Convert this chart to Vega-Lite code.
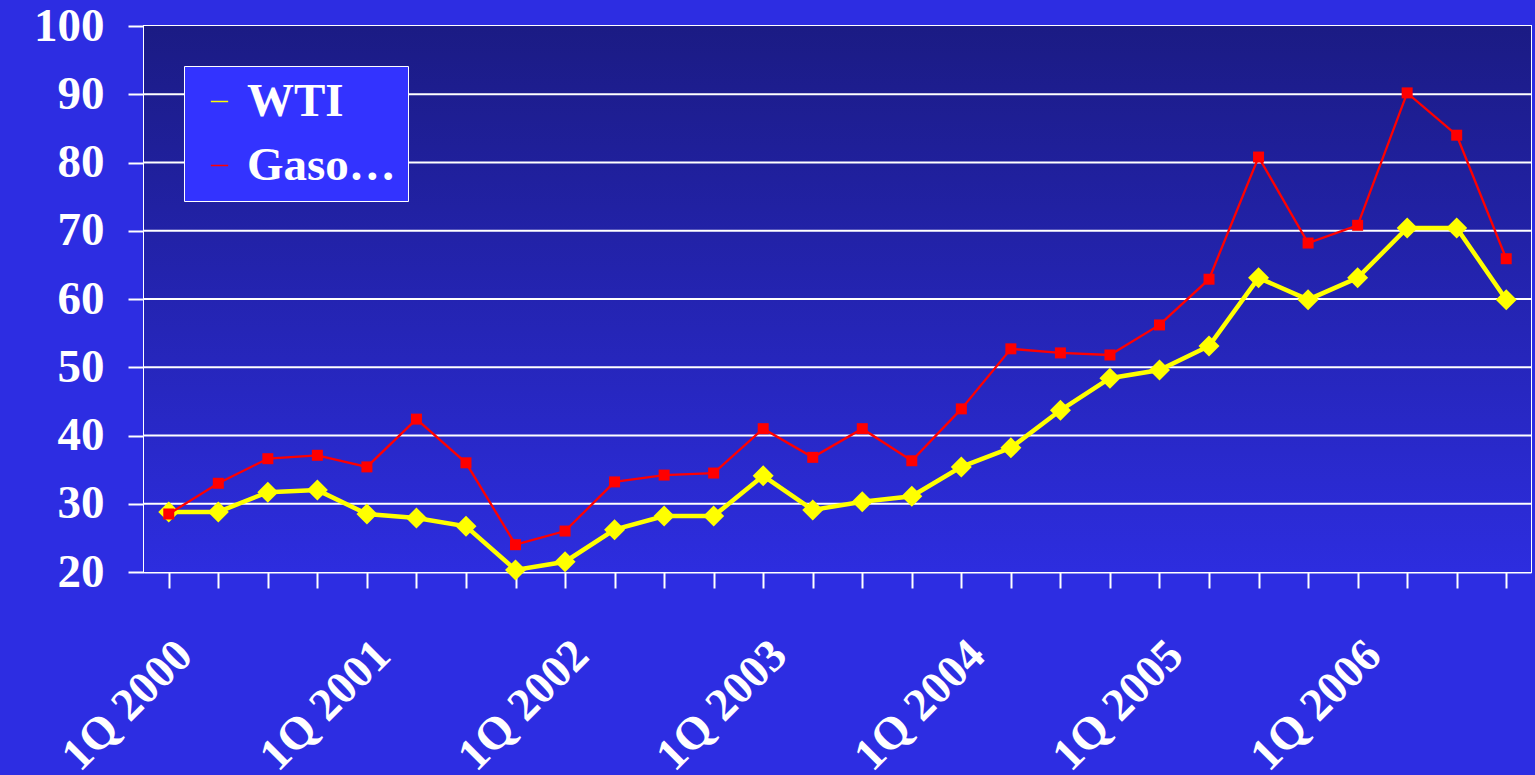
{
  "$schema": "https://vega.github.io/schema/vega-lite/v6.json",
  "width": 1387,
  "height": 546,
  "padding": {"left": 33, "top": 2, "right": 4, "bottom": 0},
  "background": "#2d2de2",
  "config": {
    "view": {"stroke": "white", "strokeWidth": 2},
    "axisX": {
      "title": null, "grid": false,
      "domainColor": "white", "domainWidth": 2,
      "tickColor": "white", "tickWidth": 2, "tickSize": 16,
      "labelAngle": -45, "labelPadding": 44,
      "labelFont": "Liberation Serif", "labelFontWeight": "bold", "labelFontSize": 46, "labelColor": "white"
    },
    "axisY": {
      "title": null, "grid": false,
      "domainColor": "white", "domainWidth": 2,
      "tickColor": "white", "tickWidth": 2, "tickSize": 16,
      "labelPadding": 24, "labelFont": "Liberation Serif", "labelFontWeight": "bold", "labelFontSize": 47, "labelColor": "white"
    }
  },
  "data": {"values": [
    {"q": "1Q 2000", "series": "WTI", "value": 28.8}, {"q": "1Q 2000", "series": "Gasoline", "value": 28.5},
    {"q": "2Q 2000", "series": "WTI", "value": 28.8}, {"q": "2Q 2000", "series": "Gasoline", "value": 33.0},
    {"q": "3Q 2000", "series": "WTI", "value": 31.7}, {"q": "3Q 2000", "series": "Gasoline", "value": 36.6},
    {"q": "4Q 2000", "series": "WTI", "value": 32.0}, {"q": "4Q 2000", "series": "Gasoline", "value": 37.1},
    {"q": "1Q 2001", "series": "WTI", "value": 28.5}, {"q": "1Q 2001", "series": "Gasoline", "value": 35.4},
    {"q": "2Q 2001", "series": "WTI", "value": 27.9}, {"q": "2Q 2001", "series": "Gasoline", "value": 42.4},
    {"q": "3Q 2001", "series": "WTI", "value": 26.7}, {"q": "3Q 2001", "series": "Gasoline", "value": 36.0},
    {"q": "4Q 2001", "series": "WTI", "value": 20.3}, {"q": "4Q 2001", "series": "Gasoline", "value": 24.0},
    {"q": "1Q 2002", "series": "WTI", "value": 21.5}, {"q": "1Q 2002", "series": "Gasoline", "value": 26.0},
    {"q": "2Q 2002", "series": "WTI", "value": 26.2}, {"q": "2Q 2002", "series": "Gasoline", "value": 33.2},
    {"q": "3Q 2002", "series": "WTI", "value": 28.2}, {"q": "3Q 2002", "series": "Gasoline", "value": 34.2},
    {"q": "4Q 2002", "series": "WTI", "value": 28.2}, {"q": "4Q 2002", "series": "Gasoline", "value": 34.5},
    {"q": "1Q 2003", "series": "WTI", "value": 34.1}, {"q": "1Q 2003", "series": "Gasoline", "value": 41.0},
    {"q": "2Q 2003", "series": "WTI", "value": 29.1}, {"q": "2Q 2003", "series": "Gasoline", "value": 36.8},
    {"q": "3Q 2003", "series": "WTI", "value": 30.3}, {"q": "3Q 2003", "series": "Gasoline", "value": 41.0},
    {"q": "4Q 2003", "series": "WTI", "value": 31.1}, {"q": "4Q 2003", "series": "Gasoline", "value": 36.3},
    {"q": "1Q 2004", "series": "WTI", "value": 35.4}, {"q": "1Q 2004", "series": "Gasoline", "value": 43.9},
    {"q": "2Q 2004", "series": "WTI", "value": 38.2}, {"q": "2Q 2004", "series": "Gasoline", "value": 52.7},
    {"q": "3Q 2004", "series": "WTI", "value": 43.7}, {"q": "3Q 2004", "series": "Gasoline", "value": 52.1},
    {"q": "4Q 2004", "series": "WTI", "value": 48.4}, {"q": "4Q 2004", "series": "Gasoline", "value": 51.8},
    {"q": "1Q 2005", "series": "WTI", "value": 49.6}, {"q": "1Q 2005", "series": "Gasoline", "value": 56.2},
    {"q": "2Q 2005", "series": "WTI", "value": 53.1}, {"q": "2Q 2005", "series": "Gasoline", "value": 62.9},
    {"q": "3Q 2005", "series": "WTI", "value": 63.1}, {"q": "3Q 2005", "series": "Gasoline", "value": 80.8},
    {"q": "4Q 2005", "series": "WTI", "value": 59.9}, {"q": "4Q 2005", "series": "Gasoline", "value": 68.2},
    {"q": "1Q 2006", "series": "WTI", "value": 63.1}, {"q": "1Q 2006", "series": "Gasoline", "value": 70.8},
    {"q": "2Q 2006", "series": "WTI", "value": 70.4}, {"q": "2Q 2006", "series": "Gasoline", "value": 90.2},
    {"q": "3Q 2006", "series": "WTI", "value": 70.4}, {"q": "3Q 2006", "series": "Gasoline", "value": 84.0},
    {"q": "4Q 2006", "series": "WTI", "value": 59.9}, {"q": "4Q 2006", "series": "Gasoline", "value": 65.9}
  ]},
  "layer": [
    {
      "data": {"values": [{"top": 100, "bottom": 20}]},
      "mark": {"type": "rect", "fill": {"gradient": "linear", "x1": 0, "y1": 0, "x2": 0, "y2": 1, "stops": [{"offset": 0, "color": "#1b1b84"}, {"offset": 1, "color": "#2d2ddf"}]}},
      "encoding": {
        "y": {"field": "top", "type": "quantitative", "scale": {"domain": [20, 100], "nice": false, "zero": false}, "axis": {"values": [20, 30, 40, 50, 60, 70, 80, 90, 100]}},
        "y2": {"field": "bottom"}
      }
    },
    {
      "data": {"values": [{"g": 30}, {"g": 40}, {"g": 50}, {"g": 60}, {"g": 70}, {"g": 80}, {"g": 90}]},
      "mark": {"type": "rule", "color": "white", "strokeWidth": 2},
      "encoding": {
        "y": {"field": "g", "type": "quantitative"}
      }
    },
    {
      "mark": {"type": "line", "strokeWidth": 4.5},
      "transform": [{"filter": "datum.series == 'WTI'"}],
      "encoding": {
        "x": {"field": "q", "type": "ordinal", "sort": null, "scale": {"paddingInner": 0, "paddingOuter": 0},
              "axis": {"labelExpr": "indexof(datum.value, '1Q') == 0 ? datum.value : ''"}},
        "y": {"field": "value", "type": "quantitative"},
        "color": {
          "field": "series", "type": "nominal",
          "scale": {"domain": ["WTI", "Gasoline"], "range": ["#ffff00", "#ff0000"]},
          "legend": {
            "title": null, "orient": "top-left", "offset": 40,
            "fillColor": "#3333ff", "strokeColor": "white",
            "padding": 12, "symbolSize": 300, "rowPadding": 16,
            "labelFont": "Liberation Serif", "labelFontWeight": "bold", "labelFontSize": 47, "labelColor": "white"
          }
        }
      }
    },
    {
      "mark": {"type": "point", "shape": "diamond", "filled": true, "size": 441, "opacity": 1},
      "transform": [{"filter": "datum.series == 'WTI'"}],
      "encoding": {
        "x": {"field": "q", "type": "ordinal", "sort": null},
        "y": {"field": "value", "type": "quantitative"},
        "color": {"field": "series", "type": "nominal"}
      }
    },
    {
      "mark": {"type": "line", "strokeWidth": 2.3},
      "transform": [{"filter": "datum.series == 'Gasoline'"}],
      "encoding": {
        "x": {"field": "q", "type": "ordinal", "sort": null},
        "y": {"field": "value", "type": "quantitative"},
        "color": {"field": "series", "type": "nominal"}
      }
    },
    {
      "mark": {"type": "point", "shape": "square", "filled": true, "size": 121, "opacity": 1},
      "transform": [{"filter": "datum.series == 'Gasoline'"}],
      "encoding": {
        "x": {"field": "q", "type": "ordinal", "sort": null},
        "y": {"field": "value", "type": "quantitative"},
        "color": {"field": "series", "type": "nominal"}
      }
    }
  ]
}
